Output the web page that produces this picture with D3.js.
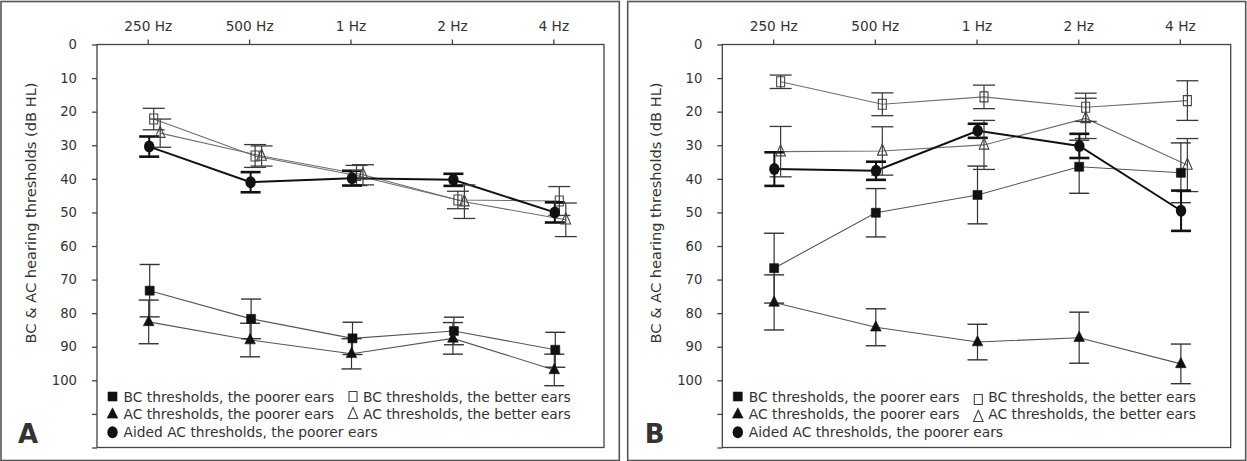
<!DOCTYPE html>
<html>
<head>
<meta charset="utf-8">
<script src="https://cdn.jsdelivr.net/npm/d3@7"></script>
<style>
  html, body { margin: 0; padding: 0; background: #fff; }
  svg { display: block; }
  text { font-family: "DejaVu Sans", sans-serif; fill: #333; }
</style>
</head>
<body>
<svg id="chart" width="1247" height="461"></svg>
<script>
// ---------- DATA ----------
const categories = ["250 Hz", "500 Hz", "1 Hz", "2 Hz", "4 Hz"];
const yTickValues = [0, 10, 20, 30, 40, 50, 60, 70, 80, 90, 100, 110, 120];
const yTickLabels = ["0", "10", "20", "30", "40", "50", "60", "70", "80", "90", "100", "", ""];
const yAxisTitle = "BC & AC hearing thresholds (dB HL)";

// Panel A
const A_bcPoor = [73.3, 81.7, 87.5, 85.3, 90.9];
const A_bcPoorSD = [7.8, 5.9, 4.8, 4.1, 5.2];
const A_acPoor = [82.6, 88.0, 92.1, 87.5, 96.9];
const A_acPoorSD = [6.5, 5.0, 4.5, 4.7, 4.7];
const A_bcBetter = [22.2, 33.2, 39.0, 46.3, 46.6];
const A_bcBetterSD = [3.2, 3.4, 3.0, 2.6, 4.3];
const A_acBetter = [26.4, 33.2, 38.8, 46.8, 52.2];
const A_acBetterSD = [4.2, 3.0, 3.0, 5.0, 5.0];
const A_aided = [30.4, 41.0, 39.8, 40.3, 50.0];
const A_aidedSD = [3.0, 3.0, 2.2, 1.8, 3.0];

// Panel B
const B_bcPoor = [66.6, 50.1, 44.8, 36.4, 38.2];
const B_bcPoorSD = [10.4, 7.2, 8.6, 7.9, 8.9];
const B_acPoor = [76.8, 84.2, 88.6, 87.3, 95.1];
const B_acPoorSD = [8.2, 5.5, 5.3, 7.6, 5.9];
const B_bcBetter = [11.1, 17.8, 15.6, 18.7, 16.7];
const B_bcBetterSD = [2.0, 3.4, 3.5, 4.2, 5.9];
const B_acBetter = [31.9, 31.7, 29.9, 22.0, 35.9];
const B_acBetterSD = [7.5, 7.2, 7.3, 6.0, 7.9];
const B_aided = [37.1, 37.6, 25.7, 30.2, 49.5];
const B_aidedSD = [5.0, 2.7, 2.1, 3.6, 6.0];

const legendLabels = {
  bcPoor: "BC thresholds, the poorer ears",
  bcBetter: "BC thresholds, the better ears",
  acPoor: "AC thresholds, the poorer ears",
  acBetter: "AC thresholds, the better ears",
  aided: "Aided AC thresholds, the poorer ears"
};

// ---------- LAYOUT / STYLE ----------
const panels = [
  {
    letter: "A",
    frame: { x0: 1, y0: 1.5, x1: 619.3, y1: 460.5 },
    plot: { x0: 97, y0: 44.5, x1: 604, y1: 447.5 },
    offsets: { bcPoor: 2, acPoor: 1, bcBetter: 6, acBetter: 12.5, aided: 1.5 },
    col2dy: 0,
    series: {
      bcPoor: [A_bcPoor, A_bcPoorSD], acPoor: [A_acPoor, A_acPoorSD],
      bcBetter: [A_bcBetter, A_bcBetterSD], acBetter: [A_acBetter, A_acBetterSD],
      aided: [A_aided, A_aidedSD]
    }
  },
  {
    letter: "B",
    frame: { x0: 627.7, y0: 1.5, x1: 1245.7, y1: 460.5 },
    plot: { x0: 722.3, y0: 44.5, x1: 1230.7, y1: 447.5 },
    offsets: { bcPoor: 1, acPoor: 1, bcBetter: 7.5, acBetter: 7.5, aided: 1.2 },
    col2dy: 3,
    series: {
      bcPoor: [B_bcPoor, B_bcPoorSD], acPoor: [B_acPoor, B_acPoorSD],
      bcBetter: [B_bcBetter, B_bcBetterSD], acBetter: [B_acBetter, B_acBetterSD],
      aided: [B_aided, B_aidedSD]
    }
  }
];

const styles = {
  bcBetter: { line: "#6e6e6e", lw: 1.1, err: "#3a3a3a", ew: 1.3, cap: 11 },
  acBetter: { line: "#6e6e6e", lw: 1.1, err: "#3a3a3a", ew: 1.3, cap: 11 },
  bcPoor:   { line: "#555",    lw: 1.1, err: "#333",    ew: 1.4, cap: 10 },
  acPoor:   { line: "#555",    lw: 1.1, err: "#333",    ew: 1.4, cap: 10 },
  aided:    { line: "#111",    lw: 2.0, err: "#111",    ew: 2.6, cap: 10 }
};
const drawOrder = ["bcBetter", "acBetter", "bcPoor", "acPoor", "aided"];

function markerPath(kind) {
  switch (kind) {
    case "bcPoor":   return "M-4.5,-4.5H4.5V4.5H-4.5Z";
    case "bcBetter": return "M-4,-5H4V5H-4Z";
    case "acPoor":   return "M0,-6.5L5.3,3.8H-5.3Z";
    case "acBetter": return "M0,-7L4.8,4.2H-4.8Z";
  }
  return null;
}

function drawMarker(g, kind, x, y) {
  if (kind === "aided") {
    g.append("ellipse").attr("cx", x).attr("cy", y).attr("rx", 5.2).attr("ry", 6)
      .attr("fill", "#111");
    return;
  }
  const filled = (kind === "bcPoor" || kind === "acPoor");
  g.append("path").attr("d", markerPath(kind))
    .attr("transform", `translate(${x},${y})`)
    .attr("fill", filled ? "#111" : "none")
    .attr("stroke", filled ? "#111" : "#444")
    .attr("stroke-width", filled ? 0.6 : 1.1);
}

const svg = d3.select("#chart");

panels.forEach(p => {
  const g = svg.append("g");
  // outer frame
  g.append("rect")
    .attr("x", p.frame.x0).attr("y", p.frame.y0)
    .attr("width", p.frame.x1 - p.frame.x0).attr("height", p.frame.y1 - p.frame.y0)
    .attr("fill", "none").attr("stroke", "#555").attr("stroke-width", 1.6);

  const x = d3.scalePoint().domain(categories).range([p.plot.x0, p.plot.x1]).padding(0.5);
  const y = d3.scaleLinear().domain([0, 120]).range([p.plot.y0, p.plot.y1]);

  // plot box
  g.append("rect")
    .attr("x", p.plot.x0).attr("y", p.plot.y0)
    .attr("width", p.plot.x1 - p.plot.x0).attr("height", p.plot.y1 - p.plot.y0)
    .attr("fill", "none").attr("stroke", "#444").attr("stroke-width", 1.3);

  // top x axis
  const xAxis = d3.axisTop(x).tickSize(5).tickPadding(9);
  const gx = g.append("g").attr("transform", `translate(0,${p.plot.y0})`).call(xAxis);
  gx.select(".domain").remove();
  gx.selectAll("line").attr("stroke", "#444").attr("stroke-width", 1.3);
  gx.selectAll("text").style("font-size", "13.7px").attr("fill", "#333")
    .style("font-family", "DejaVu Sans, sans-serif");

  // left y axis
  const yAxis = d3.axisLeft(y).tickValues(yTickValues).tickSize(5).tickPadding(15)
    .tickFormat((d, i) => yTickLabels[i]);
  const gy = g.append("g").attr("transform", `translate(${p.plot.x0},0)`).call(yAxis);
  gy.select(".domain").remove();
  gy.selectAll("line").attr("stroke", "#444").attr("stroke-width", 1.3);
  gy.selectAll("text").style("font-size", "13.2px").attr("fill", "#333")
    .style("font-family", "DejaVu Sans, sans-serif");

  // y axis title
  g.append("text")
    .attr("transform", `translate(${p.plot.x0 - 65},${213}) rotate(-90)`)
    .attr("text-anchor", "middle")
    .attr("dominant-baseline", "middle")
    .style("font-size", "14.6px")
    .text(yAxisTitle);

  // lines
  drawOrder.forEach(k => {
    const [vals] = p.series[k];
    const st = styles[k];
    const line = d3.line()
      .x((d, i) => x(categories[i]) + p.offsets[k])
      .y(d => y(d));
    g.append("path").datum(vals).attr("d", line)
      .attr("fill", "none").attr("stroke", st.line).attr("stroke-width", st.lw);
  });

  // error bars
  drawOrder.forEach(k => {
    const [vals, sds] = p.series[k];
    const st = styles[k];
    vals.forEach((v, i) => {
      const cx = x(categories[i]) + p.offsets[k];
      const yt = y(v - sds[i]), yb = y(v + sds[i]);
      g.append("line").attr("x1", cx).attr("x2", cx).attr("y1", yt).attr("y2", yb)
        .attr("stroke", st.err).attr("stroke-width", k === "aided" ? 2 : 1.2);
      [yt, yb].forEach(yy => {
        g.append("line").attr("x1", cx - st.cap).attr("x2", cx + st.cap)
          .attr("y1", yy).attr("y2", yy)
          .attr("stroke", st.err).attr("stroke-width", st.ew);
      });
    });
  });

  // markers
  drawOrder.forEach(k => {
    const [vals] = p.series[k];
    vals.forEach((v, i) => {
      drawMarker(g, k, x(categories[i]) + p.offsets[k], y(v));
    });
  });

  // legend
  const lx1 = p.plot.x0 + 15.5, tx1 = p.plot.x0 + 26.5;
  const lx2 = p.plot.x0 + 256, tx2 = p.plot.x0 + 266;
  const rows = [401.5, 419.3, 437.3];
  const legendItems = [
    { k: "bcPoor", mx: lx1, tx: tx1, row: 0, dy: 0 },
    { k: "bcBetter", mx: lx2, tx: tx2, row: 0, dy: p.col2dy },
    { k: "acPoor", mx: lx1, tx: tx1, row: 1, dy: 0 },
    { k: "acBetter", mx: lx2, tx: tx2, row: 1, dy: p.col2dy },
    { k: "aided", mx: lx1, tx: tx1, row: 2, dy: 0 }
  ];
  legendItems.forEach(it => {
    const by = rows[it.row];
    drawMarker(g, it.k, it.mx, by - 5 + it.dy);
    g.append("text").attr("x", it.tx).attr("y", by)
      .style("font-size", "13.8px").text(legendLabels[it.k]);
  });

  // panel letter
  g.append("text")
    .attr("x", p.frame.x0 + 17).attr("y", 442.7)
    .style("font-size", "26px").style("font-weight", "bold")
    .attr("fill", "#222")
    .text(p.letter);
});
</script>
</body>
</html>
